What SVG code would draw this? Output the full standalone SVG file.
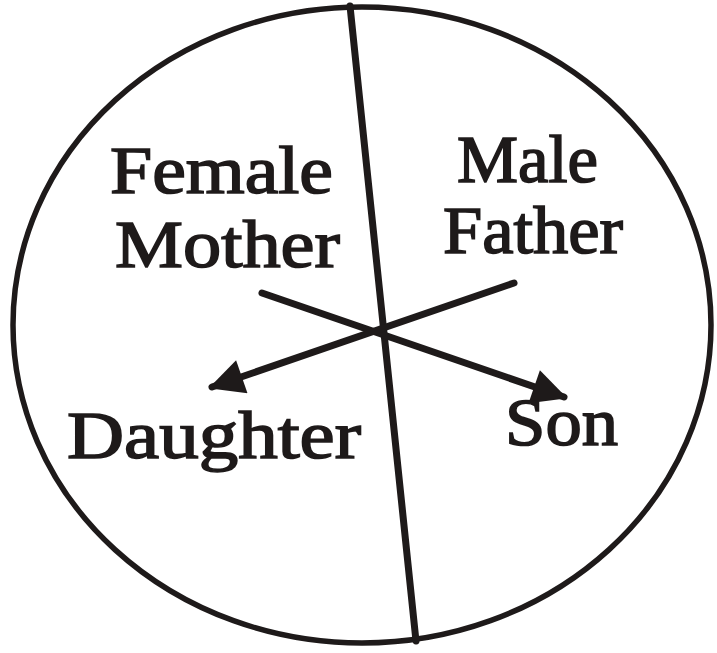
<svg xmlns="http://www.w3.org/2000/svg" width="717" height="653" viewBox="0 0 717 653">
<style>
.ln{stroke:#1e1a1a;stroke-width:7;fill:none;stroke-linecap:round}
.rim{stroke:#1e1a1a;stroke-width:5.5;fill:none}
.lb{font-family:"Liberation Serif","DejaVu Serif",serif;font-size:67px;fill:#1e1a1a;stroke:#1e1a1a;stroke-width:1.6}
</style>
<defs>
<marker id="ah" viewBox="0 0 10 10" refX="9" refY="5" markerWidth="5.5" markerHeight="5" orient="auto" markerUnits="strokeWidth">
<path d="M0,0 L10,5 L0,10 Z" fill="#1e1a1a"/>
</marker>
</defs>
<rect width="717" height="653" fill="#fff"/>
<g id="circle"><ellipse class="rim" cx="362" cy="325" rx="349" ry="318"/></g>
<g id="connectors">
<line class="ln" x1="350" y1="6" x2="416" y2="641"/>
<line class="ln" x1="262" y1="293" x2="564" y2="397" marker-end="url(#ah)"/>
<line class="ln" x1="514" y1="283" x2="212" y2="387" marker-end="url(#ah)"/>
</g>
<g id="female"><text class="lb" x="110" y="193" textLength="223" lengthAdjust="spacingAndGlyphs">Female</text></g>
<g id="mother"><text class="lb" x="115" y="267" textLength="225" lengthAdjust="spacingAndGlyphs">Mother</text></g>
<g id="male"><text class="lb" x="457" y="182" textLength="141" lengthAdjust="spacingAndGlyphs">Male</text></g>
<g id="father"><text class="lb" x="443" y="253" textLength="180" lengthAdjust="spacingAndGlyphs">Father</text></g>
<g id="daughter"><text class="lb" x="67" y="458" textLength="294" lengthAdjust="spacingAndGlyphs">Daughter</text></g>
<g id="son"><text class="lb" x="505" y="445" textLength="113" lengthAdjust="spacingAndGlyphs">Son</text></g>
</svg>
